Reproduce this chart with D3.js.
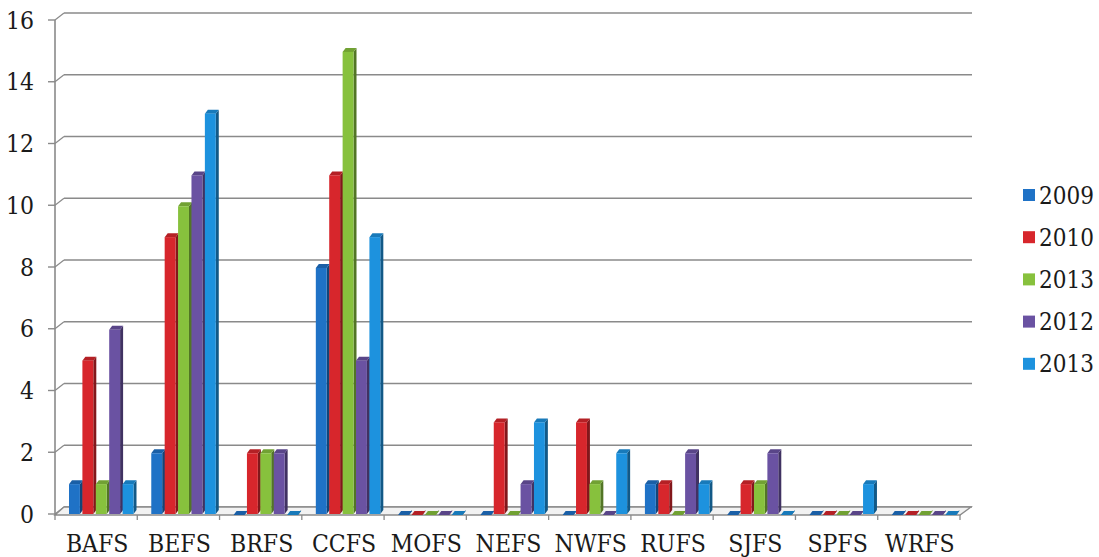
<!DOCTYPE html>
<html>
<head>
<meta charset="utf-8">
<script src="https://cdn.jsdelivr.net/npm/d3@7"></script>
<style>
  html, body { margin: 0; padding: 0; background: #fff; }
  svg { display: block; }
  .lbl { font-family: "DejaVu Serif", serif; font-stretch: condensed; fill: #1a1a1a; }
</style>
</head>
<body>
<svg id="chart" width="1099" height="557"></svg>
<script>
// Station codes along the x axis
const categories = ["BAFS", "BEFS", "BRFS", "CCFS", "MOFS", "NEFS", "NWFS", "RUFS", "SJFS", "SPFS", "WRFS"];

// Legend labels, in drawing order
const seriesNames = ["2009", "2010", "2013", "2012", "2013"];
const seriesColors = ["#1f72c6", "#d7262c", "#87c13d", "#6a52a2", "#1d92de"];

// Counts per series, one value per station
const s2009  = [1, 2, 0, 8, 0, 0, 0, 1, 0, 0, 0];
const s2010  = [5, 9, 2, 11, 0, 3, 3, 1, 1, 0, 0];
const s2013a = [1, 10, 2, 15, 0, 0, 1, 0, 1, 0, 0];
const s2012  = [6, 11, 2, 5, 0, 1, 0, 2, 2, 0, 0];
const s2013b = [1, 13, 0, 9, 0, 3, 2, 1, 0, 1, 0];
const seriesValues = [s2009, s2010, s2013a, s2012, s2013b];

const yTicks = [0, 2, 4, 6, 8, 10, 12, 14, 16];

const svg = d3.select("#chart");

// Depth offset of the pseudo-3D box
const dx = 9, dy = 7;
const frontLeft = 55, frontRight = 960;
const frontBottom = 515;

// Value scale for the front plane (bars and tick labels)
const yFront = d3.scaleLinear().domain([0, 16]).range([514, 20]);
// Same scale pushed back onto the rear wall (gridlines)
const yBack = v => yFront(v) - dy;

const x = d3.scaleBand().domain(categories).range([frontLeft, frontRight]).padding(0);
const xs = d3.scaleBand().domain(d3.range(seriesNames.length)).range([14, 81]).padding(0);

const shade = (c, k) => d3.color(c).darker(k).formatHex();

// Rear-wall gridlines with short diagonal joins to the front axis
const grid = svg.append("g");
yTicks.forEach(v => {
  grid.append("line")
    .attr("x1", frontLeft + dx).attr("x2", frontRight + dx + 3)
    .attr("y1", yBack(v)).attr("y2", yBack(v))
    .attr("stroke", "#8a8a8a").attr("stroke-width", 1.6);
  grid.append("line")
    .attr("x1", frontLeft).attr("y1", yFront(v))
    .attr("x2", frontLeft + dx).attr("y2", yBack(v))
    .attr("stroke", "#8a8a8a").attr("stroke-width", 1.2);
});

// Floor slab
svg.append("path")
  .attr("d", `M${frontLeft},${frontBottom} L${frontRight},${frontBottom} L${frontRight + dx + 2},${yBack(0)} L${frontLeft + dx},${yBack(0)} Z`)
  .attr("fill", "#f2f2f2").attr("stroke", "#8a8a8a").attr("stroke-width", 1.3);

// Front vertical axis with ticks
const axisG = svg.append("g");
axisG.append("line")
  .attr("x1", frontLeft).attr("x2", frontLeft)
  .attr("y1", yFront(16)).attr("y2", frontBottom)
  .attr("stroke", "#8a8a8a").attr("stroke-width", 1.6);
yTicks.forEach(v => {
  axisG.append("line")
    .attr("x1", frontLeft - 7).attr("x2", frontLeft)
    .attr("y1", yFront(v)).attr("y2", yFront(v))
    .attr("stroke", "#8a8a8a").attr("stroke-width", 1.4);
  axisG.append("text")
    .attr("class", "lbl")
    .attr("x", 34).attr("y", yFront(v) + 8.5)
    .attr("text-anchor", "end")
    .style("font-size", "24.5px")
    .text(v);
});

// Category ticks under the floor
d3.range(categories.length + 1).forEach(i => {
  const xx = frontLeft + i * x.step();
  svg.append("line")
    .attr("x1", xx).attr("x2", xx)
    .attr("y1", frontBottom).attr("y2", frontBottom + 5)
    .attr("stroke", "#8a8a8a").attr("stroke-width", 1.3);
});

// Category labels
svg.append("g").selectAll("text").data(categories).join("text")
  .attr("class", "lbl")
  .attr("x", d => x(d) + x.bandwidth() / 2 + 1)
  .attr("y", 552)
  .attr("text-anchor", "middle")
  .style("font-size", "24.5px")
  .text(d => d);

// Bars as small prisms: front face, top face, right side face
const bdx = 3, bdy = 4;
const barData = [];
categories.forEach((c, ci) => {
  seriesValues.forEach((vals, si) => {
    barData.push({ c, si, v: vals[ci] });
  });
});

const bars = svg.append("g").selectAll("g").data(barData).join("g");
bars.each(function (d) {
  const g = d3.select(this);
  const col = seriesColors[d.si];
  const x0 = x(d.c) + xs(d.si);
  const w = xs.bandwidth() - bdx + 0.5;
  const yt = yFront(d.v) + 1;
  const yb = yFront(0);
  // side
  g.append("path")
    .attr("d", `M${x0 + w},${yt} L${x0 + w + bdx},${yt - bdy} L${x0 + w + bdx},${yb - bdy} L${x0 + w},${yb} Z`)
    .attr("fill", shade(col, 1.4));
  // top
  g.append("path")
    .attr("d", `M${x0},${yt} L${x0 + bdx},${yt - bdy} L${x0 + w + bdx},${yt - bdy} L${x0 + w},${yt} Z`)
    .attr("fill", shade(col, 0.5));
  // front
  if (d.v > 0) {
    g.append("rect")
      .attr("x", x0).attr("y", yt)
      .attr("width", w).attr("height", yb - yt)
      .attr("fill", col);
  }
});

// Legend
const legend = svg.append("g");
seriesNames.forEach((name, i) => {
  const cy = 195 + i * 42.2;
  legend.append("rect")
    .attr("x", 1023).attr("y", cy - 6)
    .attr("width", 12).attr("height", 12)
    .attr("fill", seriesColors[i]);
  legend.append("text")
    .attr("class", "lbl")
    .attr("x", 1039).attr("y", cy + 8.5)
    .style("font-size", "24px")
    .text(name);
});
</script>
</body>
</html>
